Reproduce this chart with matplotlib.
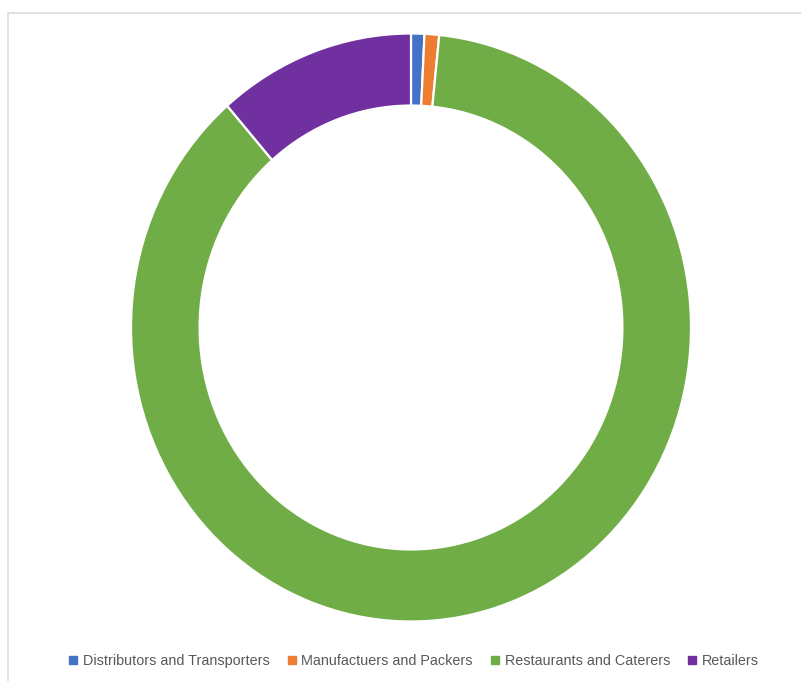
import matplotlib
matplotlib.use('Agg')
import matplotlib.pyplot as plt
from matplotlib.lines import Line2D
from matplotlib.patches import Rectangle

labels = ['Distributors and Transporters', 'Manufactuers and Packers',
          'Restaurants and Caterers', 'Retailers']
values = [0.77, 0.84, 86.99, 11.4]
colors = ['#4472C4', '#ED7D31', '#70AD47', '#7030A0']

W, H = 801, 681
fig = plt.figure(figsize=(W / 100, H / 100), dpi=100)

# light grey chart frame (runs off the right and bottom edge)
fig.patches.append(Rectangle((8 / W, -0.05), 1.0, 1 - 12.5 / H + 0.05,
                             transform=fig.transFigure, fill=False,
                             edgecolor='#D9D9D9', linewidth=1.1))

# ring is slightly stretched vertically, so axes are not square
cx, cy, rx, ry = 411, 327.5, 280, 294
ax = fig.add_axes([(cx - rx) / W, (H - cy - ry) / H, 2 * rx / W, 2 * ry / H])
ax.pie(values, colors=colors, startangle=90, counterclock=False, radius=1,
       wedgeprops=dict(width=0.245, edgecolor='white', linewidth=1.6))
ax.set_aspect('auto')
ax.set_xlim(-1, 1)
ax.set_ylim(-1, 1)
ax.axis('off')

handles = [Line2D([], [], marker='s', linestyle='', markersize=5.5,
                  markerfacecolor=c, markeredgecolor=c) for c in colors]
fig.legend(handles, labels, loc='center', bbox_to_anchor=(414 / W, 1 - 661 / H),
           ncol=4, frameon=False, handlelength=0.6, handletextpad=0.35,
           columnspacing=1.25, prop={'family': 'Liberation Sans', 'size': 10.4},
           labelcolor='#595959')

fig.savefig('out.png', dpi=100)
